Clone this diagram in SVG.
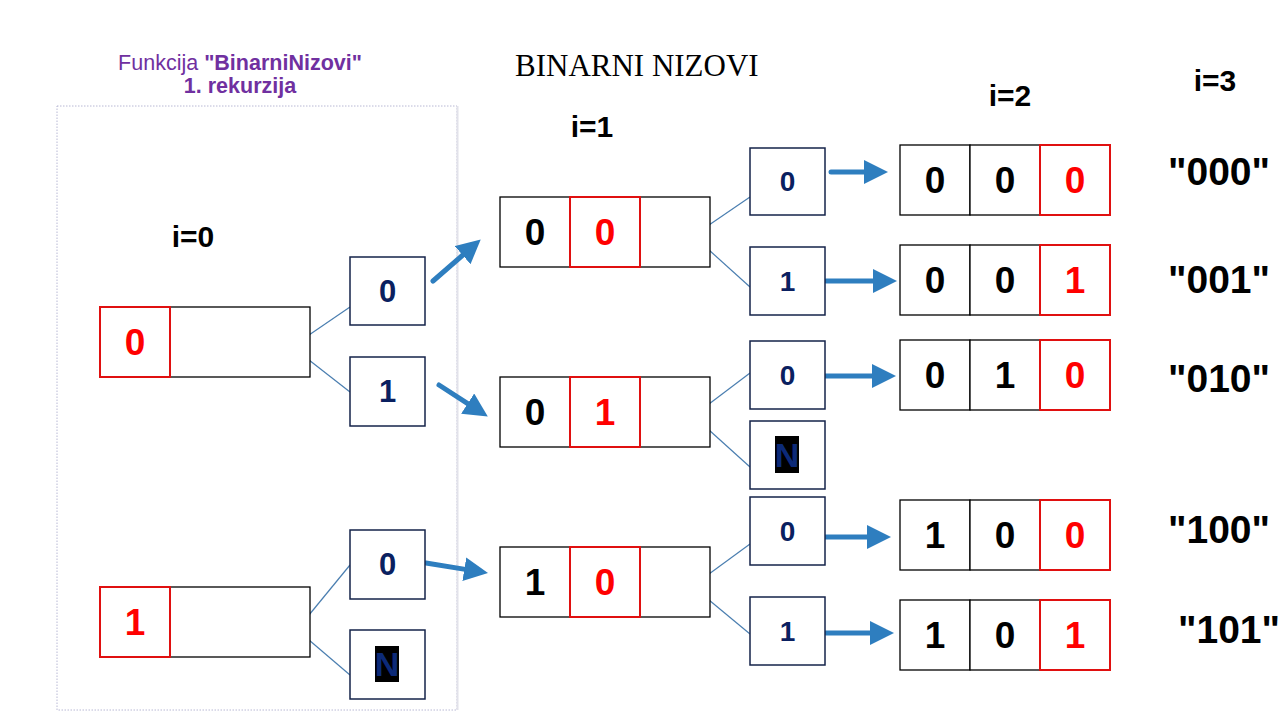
<svg xmlns="http://www.w3.org/2000/svg" width="1280" height="720" viewBox="0 0 1280 720">
<style>
.cell{fill:#fff;stroke:#000;stroke-width:1.3}
.red{fill:#fff;stroke:#e01010;stroke-width:2}
.sb{fill:#fff;stroke:#14234a;stroke-width:1.5}
.d{font-family:"Liberation Sans",Arial,sans-serif;font-weight:bold;font-size:37px;text-anchor:middle;fill:#000}
.dr{fill:#ff0000}
.s0{font-family:"Liberation Sans",Arial,sans-serif;font-weight:bold;font-size:31px;text-anchor:middle;fill:#0a2060}
.s1{font-family:"Liberation Sans",Arial,sans-serif;font-weight:bold;font-size:28px;text-anchor:middle;fill:#0a2060}
.nn{font-family:"Liberation Sans",Arial,sans-serif;font-weight:bold;font-size:34px;text-anchor:middle;fill:#0c2a78}
.lbl{font-family:"Liberation Sans",Arial,sans-serif;font-weight:bold;font-size:30px;text-anchor:middle;fill:#000}
.str{font-family:"Liberation Sans",Arial,sans-serif;font-weight:bold;font-size:39px;fill:#000}
.thin{stroke:#4a7eb0;stroke-width:1.2;fill:none}
.arr{stroke:#2e7ebf;stroke-width:5;fill:none;stroke-linecap:round;marker-end:url(#ah)}
</style>
<defs>
<marker id="ah" viewBox="0 0 24 24" refX="1" refY="12" markerWidth="24" markerHeight="24" markerUnits="userSpaceOnUse" orient="auto">
<path d="M0,0 L24,12 L0,24 z" fill="#2e7ebf"/>
</marker>
</defs>
<rect width="1280" height="720" fill="#fff"/>

<!-- frame -->
<g id="frame">
<rect x="57" y="106" width="400" height="604" fill="none" stroke="#b8b8d4" stroke-width="1" stroke-dasharray="1.5 1.5"/>
<line x1="457.5" y1="106" x2="457.5" y2="710" stroke="#e2e2ea" stroke-width="2"/>
</g>

<!-- titles -->
<g id="titles">
<text x="240" y="70" font-family="Liberation Sans,Arial,sans-serif" font-size="21.5" fill="#7030a0" text-anchor="middle">Funkcija <tspan font-weight="bold">"BinarniNizovi"</tspan></text>
<text x="240" y="93" font-family="Liberation Sans,Arial,sans-serif" font-size="21.5" font-weight="bold" fill="#7030a0" text-anchor="middle">1. rekurzija</text>
<text x="515" y="76" font-family="Liberation Serif,Times New Roman,serif" font-size="31" fill="#000">BINARNI NIZOVI</text>
<text class="lbl" x="193" y="247">i=0</text>
<text class="lbl" x="592" y="137">i=1</text>
<text class="lbl" x="1010" y="106">i=2</text>
<text class="lbl" x="1215" y="91">i=3</text>
</g>

<!-- connectors -->
<g id="connectors">
<line class="thin" x1="309" y1="335" x2="350" y2="307"/>
<line class="thin" x1="309" y1="360" x2="350" y2="392"/>
<line class="thin" x1="309" y1="615" x2="350" y2="565"/>
<line class="thin" x1="309" y1="640" x2="350" y2="675"/>
<line class="thin" x1="709" y1="225" x2="750" y2="197"/>
<line class="thin" x1="709" y1="250" x2="750" y2="287"/>
<line class="thin" x1="709" y1="404" x2="750" y2="373"/>
<line class="thin" x1="709" y1="430" x2="750" y2="467"/>
<line class="thin" x1="709" y1="574" x2="750" y2="544"/>
<line class="thin" x1="709" y1="600" x2="750" y2="634"/>
<line class="arr" x1="433" y1="281" x2="463.4" y2="254.5"/>
<line class="arr" x1="439" y1="385" x2="468.5" y2="404.1"/>
<line class="arr" x1="426" y1="563" x2="465.3" y2="569.4"/>
<line class="arr" x1="831" y1="172" x2="865" y2="172"/>
<line class="arr" x1="826" y1="281" x2="874" y2="281"/>
<line class="arr" x1="824" y1="376" x2="873" y2="376"/>
<line class="arr" x1="822" y1="537" x2="868" y2="537"/>
<line class="arr" x1="826" y1="633" x2="871" y2="633"/>
</g>

<!-- level 0 arrays -->
<g id="arr0a">
<rect class="cell" x="170" y="307" width="140" height="70"/>
<rect class="red" x="100" y="307" width="70" height="70"/>
<text class="d dr" x="135" y="355">0</text>
</g>
<g id="arr0b">
<rect class="cell" x="170" y="587" width="140" height="70"/>
<rect class="red" x="100" y="587" width="70" height="70"/>
<text class="d dr" x="135" y="635">1</text>
</g>

<!-- level 0 choice boxes -->
<g id="c0a"><rect class="sb" x="350" y="257" width="75" height="68"/><text class="s0" x="387.5" y="302">0</text></g>
<g id="c0b"><rect class="sb" x="350" y="357" width="75" height="69"/><text class="s0" x="387.5" y="402">1</text></g>
<g id="c0c"><rect class="sb" x="350" y="530" width="75" height="69"/><text class="s0" x="387.5" y="575">0</text></g>
<g id="c0d"><rect class="sb" x="350" y="630" width="75" height="69"/><rect x="375" y="646" width="24" height="36" fill="#000"/><text class="nn" x="387" y="676">N</text></g>

<!-- level 1 arrays -->
<g id="arr1a">
<rect class="cell" x="500" y="197" width="70" height="70"/>
<rect class="cell" x="640" y="197" width="70" height="70"/>
<rect class="red" x="570" y="197" width="70" height="70"/>
<text class="d" x="535" y="245">0</text><text class="d dr" x="605" y="245">0</text>
</g>
<g id="arr1b">
<rect class="cell" x="500" y="377" width="70" height="70"/>
<rect class="cell" x="640" y="377" width="70" height="70"/>
<rect class="red" x="570" y="377" width="70" height="70"/>
<text class="d" x="535" y="425">0</text><text class="d dr" x="605" y="425">1</text>
</g>
<g id="arr1c">
<rect class="cell" x="500" y="547" width="70" height="70"/>
<rect class="cell" x="640" y="547" width="70" height="70"/>
<rect class="red" x="570" y="547" width="70" height="70"/>
<text class="d" x="535" y="595">1</text><text class="d dr" x="605" y="595">0</text>
</g>

<!-- level 1 choice boxes -->
<g id="c1a"><rect class="sb" x="750" y="148" width="75" height="67"/><text class="s1" x="787.5" y="191">0</text></g>
<g id="c1b"><rect class="sb" x="750" y="247" width="75" height="68"/><text class="s1" x="787.5" y="291">1</text></g>
<g id="c1c"><rect class="sb" x="750" y="341" width="75" height="68"/><text class="s1" x="787.5" y="385">0</text></g>
<g id="c1d"><rect class="sb" x="750" y="421" width="75" height="68"/><rect x="775" y="436" width="24" height="37" fill="#000"/><text class="nn" x="787" y="467">N</text></g>
<g id="c1e"><rect class="sb" x="750" y="497" width="75" height="68"/><text class="s1" x="787.5" y="541">0</text></g>
<g id="c1f"><rect class="sb" x="750" y="597" width="75" height="68"/><text class="s1" x="787.5" y="641">1</text></g>

<!-- level 2 arrays -->
<g id="arr2a">
<rect class="cell" x="900" y="145" width="70" height="70"/><rect class="cell" x="970" y="145" width="70" height="70"/><rect class="red" x="1040" y="145" width="70" height="70"/>
<text class="d" x="935" y="193">0</text><text class="d" x="1005" y="193">0</text><text class="d dr" x="1075" y="193">0</text>
</g>
<g id="arr2b">
<rect class="cell" x="900" y="245" width="70" height="70"/><rect class="cell" x="970" y="245" width="70" height="70"/><rect class="red" x="1040" y="245" width="70" height="70"/>
<text class="d" x="935" y="293">0</text><text class="d" x="1005" y="293">0</text><text class="d dr" x="1075" y="293">1</text>
</g>
<g id="arr2c">
<rect class="cell" x="900" y="340" width="70" height="70"/><rect class="cell" x="970" y="340" width="70" height="70"/><rect class="red" x="1040" y="340" width="70" height="70"/>
<text class="d" x="935" y="388">0</text><text class="d" x="1005" y="388">1</text><text class="d dr" x="1075" y="388">0</text>
</g>
<g id="arr2d">
<rect class="cell" x="900" y="500" width="70" height="70"/><rect class="cell" x="970" y="500" width="70" height="70"/><rect class="red" x="1040" y="500" width="70" height="70"/>
<text class="d" x="935" y="548">1</text><text class="d" x="1005" y="548">0</text><text class="d dr" x="1075" y="548">0</text>
</g>
<g id="arr2e">
<rect class="cell" x="900" y="600" width="70" height="70"/><rect class="cell" x="970" y="600" width="70" height="70"/><rect class="red" x="1040" y="600" width="70" height="70"/>
<text class="d" x="935" y="648">1</text><text class="d" x="1005" y="648">0</text><text class="d dr" x="1075" y="648">1</text>
</g>

<!-- results -->
<g id="results">
<text class="str" x="1168" y="185">"000"</text>
<text class="str" x="1168" y="293">"001"</text>
<text class="str" x="1168" y="392">"010"</text>
<text class="str" x="1168" y="543">"100"</text>
<text class="str" x="1178" y="643">"101"</text>
</g>
</svg>
